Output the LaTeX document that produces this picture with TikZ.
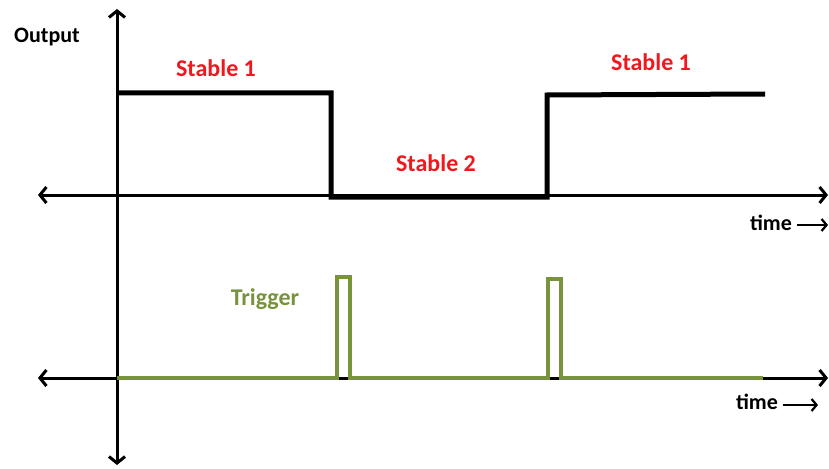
\documentclass[tikz,border=0pt]{standalone}
\usepackage{fontspec}
\setmainfont{Carlito}
\usetikzlibrary{arrows.meta}
\definecolor{lblred}{RGB}{238,24,30}
\definecolor{trgreen}{RGB}{119,147,60}
\tikzset{
  axisline/.style={line width=3pt, {Straight Barb[length=6.5pt,width=16pt,line width=3pt]}-{Straight Barb[length=6.5pt,width=16pt,line width=3pt]}},
  timearrow/.style={line width=2.2pt, -{Straight Barb[length=5pt,width=12pt,line width=2.2pt]}},
  outwave/.style={line width=5pt, black, line join=miter},
  trigwave/.style={line width=4.6pt, trgreen, line join=miter},
  lbl/.style={font=\fontsize{22}{26}\selectfont\bfseries, inner sep=0pt, anchor=base},
  redlbl/.style={lbl, font=\fontsize{24}{28}\selectfont\bfseries, text=lblred},
}
\begin{document}
\begin{tikzpicture}[x=1pt,y=-1pt]
\useasboundingbox (0,0) rectangle (829,468);
% axes
\coordinate (vtop) at (117,9);
\coordinate (vbot) at (117,465);
\coordinate (h1l) at (38,195);
\coordinate (h1r) at (828,195);
\coordinate (h2l) at (38,378);
\coordinate (h2r) at (828,378);
\draw[axisline] (vtop) -- (vbot);
\draw[axisline] (h1l) -- (h1r);
\draw[axisline] (h2l) -- (h2r);
% output waveform
\draw[outwave] (117,93) -- (331,93) -- (331,197) -- (547,197) -- (547,95) -- (765,94);
% trigger waveform
\draw[trigwave] (117,378) -- (337,378) -- (337,277) -- (350,277) -- (350,378) -- (548,378) -- (548,279) -- (561,279) -- (561,378) -- (763,378);
% labels
\node[lbl] (output) at (47,43) {Output};
\node[redlbl] (s1a) at (216,77) {Stable 1};
\node[redlbl] (s2) at (436,171) {Stable 2};
\node[redlbl] (s1b) at (651,71) {Stable 1};
\node[lbl, font=\fontsize{24}{28}\selectfont\bfseries, text=trgreen] (trig) at (265,305) {Trigger};
\node[lbl] (t1) at (771,230) {time};
\node[lbl] (t2) at (757,409) {time};
\coordinate (a1s) at (797,225);
\coordinate (a1e) at (828,225);
\coordinate (a2s) at (783,405);
\coordinate (a2e) at (818,405);
\draw[timearrow] (a1s) -- (a1e);
\draw[timearrow] (a2s) -- (a2e);
\end{tikzpicture}
\end{document}
